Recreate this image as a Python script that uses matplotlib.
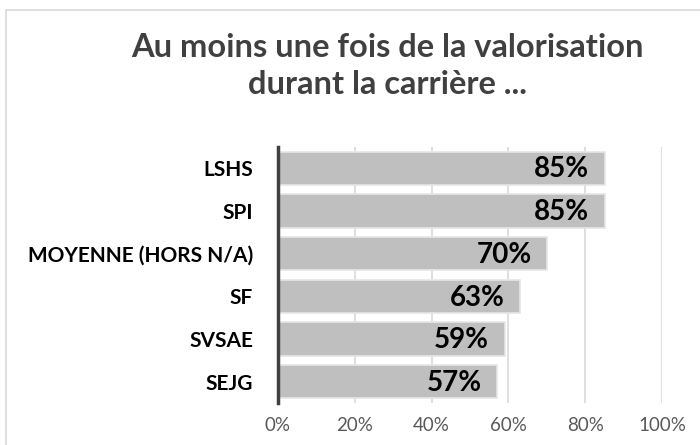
import matplotlib.pyplot as plt
from matplotlib.patches import Rectangle

categories = ['LSHS', 'SPI', 'MOYENNE (HORS N/A)', 'SF', 'SVSAE', 'SEJG']
values = [85, 85, 70, 63, 59, 57]
xticks = [0, 20, 40, 60, 80, 100]
title = 'Au moins une fois de la valorisation\ndurant la carrière ...'

plt.rcParams['font.family'] = ['Lato', 'DejaVu Sans']

fig = plt.figure(figsize=(7, 4.45), dpi=100)
ax = fig.add_axes([0.397, 0.094, 0.549, 0.576])

# figure frame
fig.patches.append(Rectangle((6/700, -0.01), 1.0, 1 - 10/445 + 0.01, transform=fig.transFigure,
                             fill=False, edgecolor='#d9d9d9', linewidth=1.2))

y = list(range(len(categories)))
ax.barh(y, values, height=0.78, color='#bfbfbf', edgecolor='#e6e6e6', linewidth=1.2, zorder=2)
for yi, v in zip(y, values):
    ax.text(v - 4, yi + 0.03, f'{v}%', ha='right', va='center', fontsize=20, fontweight='bold',
            color='black', zorder=3)

ax.set_xlim(0, 100)
ax.set_ylim(len(categories) - 0.5, -0.5)
ax.set_yticks(y)
ax.set_yticklabels(categories, fontsize=15, fontweight='bold', color='black')
ax.set_xticks(xticks)
ax.set_xticklabels([f'{t}%' for t in xticks], fontsize=13.5, color='#595959')
ax.tick_params(axis='both', length=0)
ax.tick_params(axis='y', pad=18)
ax.tick_params(axis='x', pad=10)
for t in xticks[1:]:
    ax.axvline(t, color='#d9d9d9', linewidth=1.2, zorder=1)
for s in ['top', 'right', 'bottom']:
    ax.spines[s].set_visible(False)
ax.spines['left'].set_color('#404040')
ax.spines['left'].set_linewidth(2.5)
ax.spines['left'].set_zorder(4)

fig.text(0.553, 0.852, title, ha='center', va='center', fontsize=23.5, fontweight='bold',
         color='#404040', linespacing=1.35)

fig.savefig('out.png', dpi=100)
